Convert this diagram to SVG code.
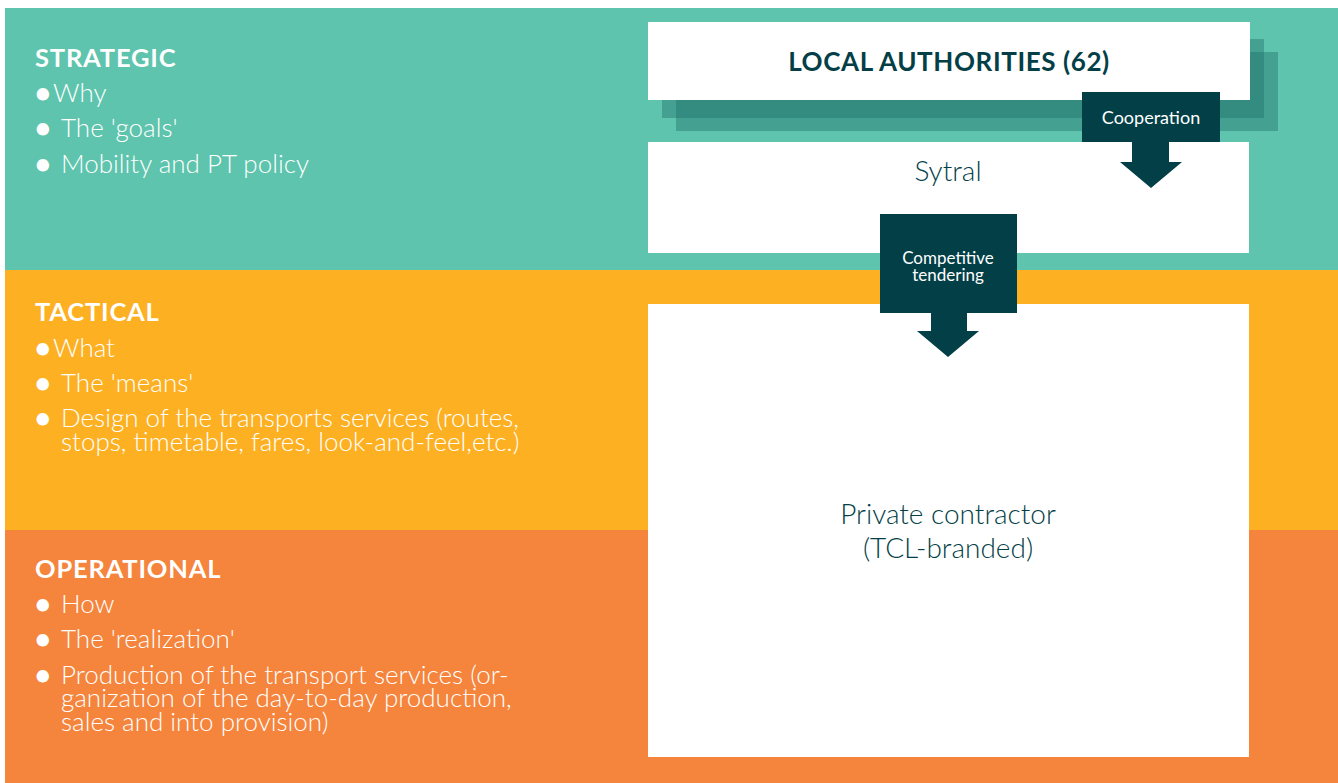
<svg xmlns="http://www.w3.org/2000/svg" width="1338" height="783" viewBox="0 0 1338 783">
<style>
.lbl{font-family:Lato,"Open Sans","Liberation Sans",sans-serif;fill:#ffffff;}
.h{font-weight:700;font-size:25.5px;letter-spacing:0.8px;}
.b{font-weight:300;font-size:26px;}
.box{fill:#ffffff;}
.dk{fill:#033f47;}
.bx{font-family:Lato,"Open Sans","Liberation Sans",sans-serif;fill:#043f47;text-anchor:middle;}
.wt{font-family:Lato,"Open Sans","Liberation Sans",sans-serif;fill:#ffffff;text-anchor:middle;font-weight:400;}
</style>
<rect width="1338" height="783" fill="#ffffff"/>
<g id="bands">
<rect x="5" y="8" width="1333" height="262" fill="#5ec4ad"/>
<rect x="5" y="270" width="1333" height="260" fill="#fdb022"/>
<rect x="5" y="530" width="1333" height="253" fill="#f5843c"/>
</g>
<g id="strategic">
<text class="lbl h" x="35" y="67">STRATEGIC</text>
<text class="lbl b" x="35" y="102">●<tspan x="53">Why</tspan></text>
<text class="lbl b" x="35" y="137">●<tspan x="61">The 'goals'</tspan></text>
<text class="lbl b" x="35" y="173">●<tspan x="61">Mobility and PT policy</tspan></text>
</g>
<g id="tactical">
<text class="lbl h" x="35" y="321">TACTICAL</text>
<text class="lbl b" x="35" y="357">●<tspan x="53">What</tspan></text>
<text class="lbl b" x="35" y="392">●<tspan x="61">The 'means'</tspan></text>
<text class="lbl b" x="35" y="427">●<tspan x="61">Design of the transports services (routes,</tspan></text>
<text class="lbl b" x="61" y="451">stops, timetable, fares, look-and-feel,etc.)</text>
</g>
<g id="operational">
<text class="lbl h" x="35" y="578">OPERATIONAL</text>
<text class="lbl b" x="35" y="613">●<tspan x="61">How</tspan></text>
<text class="lbl b" x="35" y="648">●<tspan x="61">The 'realization'</tspan></text>
<text class="lbl b" x="35" y="684">●<tspan x="61">Production of the transport services (or-</tspan></text>
<text class="lbl b" x="61" y="707">ganization of the day-to-day production,</text>
<text class="lbl b" x="61" y="731">sales and into provision)</text>
</g>
<g id="local-authorities">
<rect x="662" y="39" width="602" height="79" fill="#1f6e66" fill-opacity="0.4"/>
<rect x="676" y="52" width="602" height="79" fill="#1f6e66" fill-opacity="0.4"/>
<rect class="box" x="648" y="22" width="602" height="78"/>
<text class="bx" x="949" y="71" font-size="26" font-weight="700" letter-spacing="0.6">LOCAL AUTHORITIES (62)</text>
</g>
<g id="sytral">
<rect class="box" x="648" y="142" width="601" height="111"/>
<text class="bx" x="948" y="181" font-size="28" font-weight="300">Sytral</text>
</g>
<g id="private-contractor">
<rect class="box" x="648" y="304" width="601" height="453"/>
<text class="bx" x="948" y="524" font-size="28" font-weight="300">Private contractor</text>
<text class="bx" x="948" y="558" font-size="28" font-weight="300">(TCL-branded)</text>
</g>
<g id="connectors">
<g id="cooperation">
<rect class="dk" x="1082" y="92" width="138" height="50"/>
<polygon class="dk" points="1132,142 1169,142 1169,162 1182,162 1151,188 1120,162 1132,162"/>
<text class="wt" x="1151" y="124" font-size="18">Cooperation</text>
</g>
<g id="competitive-tendering">
<rect class="dk" x="880" y="214" width="137" height="99"/>
<polygon class="dk" points="931,313 967,313 967,331 979,331 948,357 917,331 931,331"/>
<text class="wt" x="948" y="264" font-size="17">Competitive</text>
<text class="wt" x="948" y="281" font-size="17">tendering</text>
</g>
</g>
</svg>
